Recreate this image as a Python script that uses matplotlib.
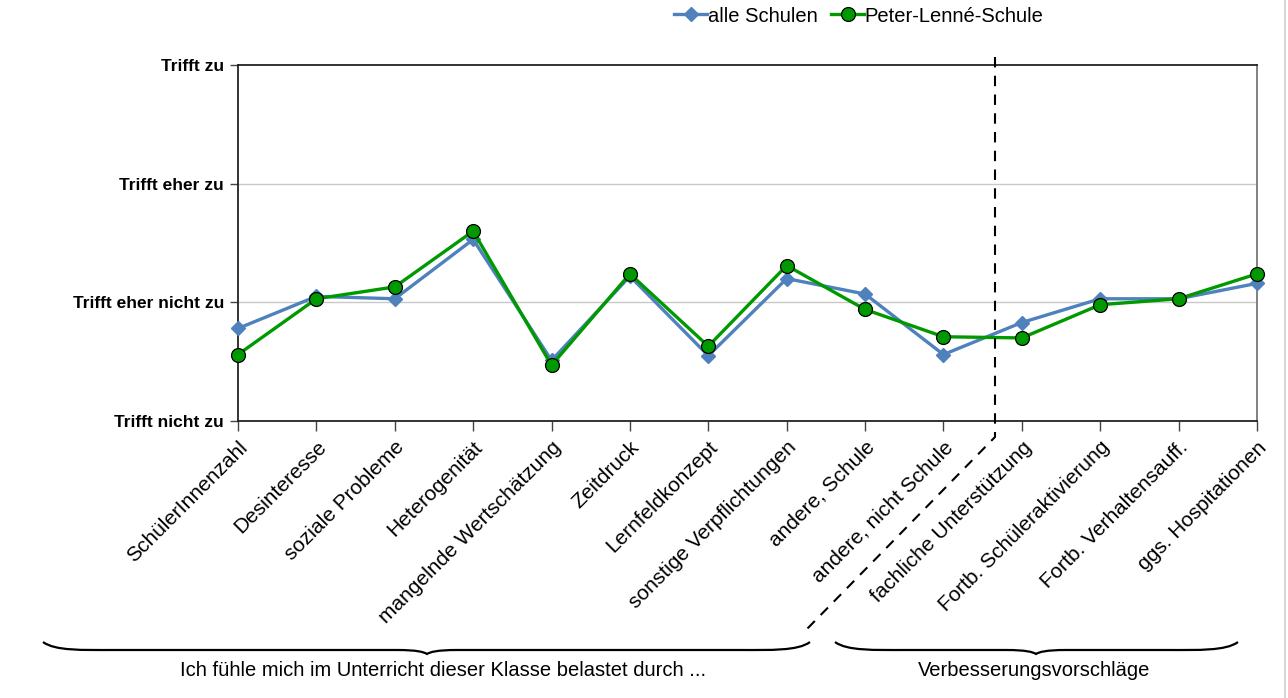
import matplotlib.pyplot as plt
from matplotlib.lines import Line2D
from matplotlib.path import Path
from matplotlib.patches import PathPatch

plt.rcParams['font.family'] = ['Liberation Sans', 'DejaVu Sans']

categories = [
    'SchülerInnenzahl', 'Desinteresse', 'soziale Probleme', 'Heterogenität',
    'mangelnde Wertschätzung', 'Zeitdruck', 'Lernfeldkonzept',
    'sonstige Verpflichtungen', 'andere, Schule', 'andere, nicht Schule',
    'fachliche Unterstützung', 'Fortb. Schüleraktivierung',
    'Fortb. Verhaltensauff.', 'ggs. Hospitationen',
]
alle_schulen = [1.78, 2.05, 2.03, 2.53, 1.51, 2.22, 1.55, 2.20, 2.07, 1.56,
                1.83, 2.03, 2.03, 2.16]
peter_lenne = [1.56, 2.03, 2.13, 2.60, 1.47, 2.24, 1.63, 2.31, 1.94, 1.71,
               1.70, 1.98, 2.03, 2.24]
scale_levels = [1, 2, 3, 4]
scale_labels = ['Trifft nicht zu', 'Trifft eher nicht zu', 'Trifft eher zu', 'Trifft zu']
group_labels = ['Ich fühle mich im Unterricht dieser Klasse belastet durch ...',
                'Verbesserungsvorschläge']

W, H = 1288, 698
fig = plt.figure(figsize=(W / 100, H / 100), dpi=100, facecolor='white')
ax = fig.add_axes([238 / W, 1 - 421 / H, (1257 - 238) / W, (421 - 65) / H])

x = range(len(categories))
ax.plot(x, alle_schulen, color='#4F81BD', lw=2.4, marker='D', ms=7.5,
        mec='#4F81BD', mfc='#4F81BD', clip_on=False, zorder=3, label='alle Schulen')
ax.plot(x, peter_lenne, color='#009A00', lw=2.4, marker='o', ms=10,
        mec='black', mew=0.9, mfc='#009A00', clip_on=False, zorder=4,
        label='Peter-Lenné-Schule')

ax.set_xlim(0, len(categories) - 1)
ax.set_ylim(1, 4)
ax.set_yticks(scale_levels)
ax.set_yticklabels(scale_labels, fontsize=12.5, fontweight='bold')
ax.set_xticks(list(x))
ax.set_xticklabels(categories, rotation=45, ha='right', rotation_mode='anchor',
                   fontsize=15)
ax.tick_params(axis='x', length=7, width=1, color='#444444', pad=5)
ax.tick_params(axis='y', length=6, width=1, color='#444444', pad=4)
for y in scale_levels[1:3]:
    ax.axhline(y, color='#c8c8c8', lw=1, zorder=0)
for side in ['left', 'bottom', 'top']:
    ax.spines[side].set_color('#222222')
    ax.spines[side].set_linewidth(1.3)
ax.spines['right'].set_color('#777777')
ax.spines['right'].set_linewidth(1.3)

fig.legend(loc='center', bbox_to_anchor=(859 / W, 1 - 16 / H), ncol=2,
           frameon=False, fontsize=14.5, handlelength=1.6, handletextpad=0.05,
           columnspacing=0.7, borderpad=0)


def px(xp, yp):
    return xp / W, 1 - yp / H


# divider between the two question blocks
fig.add_artist(Line2D(*zip(px(995, 57), px(995, 437), px(806, 630)),
                      color='black', lw=1.5, ls=(0, (5, 4))))


def brace(x0, x1, xm, ytop, ybot, lw=1.6):
    y_mid = (ytop + ybot) / 2 + 1
    verts = [px(x0, ytop),
             px(x0 + 12, y_mid + 2), px(x0 + 40, y_mid + 1), px(x0 + 70, y_mid + 1),
             px(xm - 30, y_mid + 1),
             px(xm - 10, y_mid + 1), px(xm - 3, ybot - 2), px(xm, ybot),
             px(xm + 3, ybot - 2), px(xm + 10, y_mid + 1), px(xm + 30, y_mid + 1),
             px(x1 - 70, y_mid + 1),
             px(x1 - 40, y_mid + 1), px(x1 - 12, y_mid + 2), px(x1, ytop)]
    codes = [Path.MOVETO,
             Path.CURVE4, Path.CURVE4, Path.CURVE4,
             Path.LINETO,
             Path.CURVE4, Path.CURVE4, Path.CURVE4,
             Path.CURVE4, Path.CURVE4, Path.CURVE4,
             Path.LINETO,
             Path.CURVE4, Path.CURVE4, Path.CURVE4]
    fig.add_artist(PathPatch(Path(verts, codes), fill=False, lw=lw,
                             color='black', transform=fig.transFigure))


brace(43, 810, 427, 642, 654)
brace(835, 1238, 1036, 642, 654)
fig.text(*px(443, 671), group_labels[0], ha='center', va='center', fontsize=14.5)
fig.text(*px(1034, 671), group_labels[1], ha='center', va='center', fontsize=14.5)

# right frame edge of the graphic
fig.add_artist(Line2D([1284.5 / W] * 2, [0, 1], color='#cfcfcf', lw=1.2))

fig.savefig('out.png', dpi=100, facecolor='white')
